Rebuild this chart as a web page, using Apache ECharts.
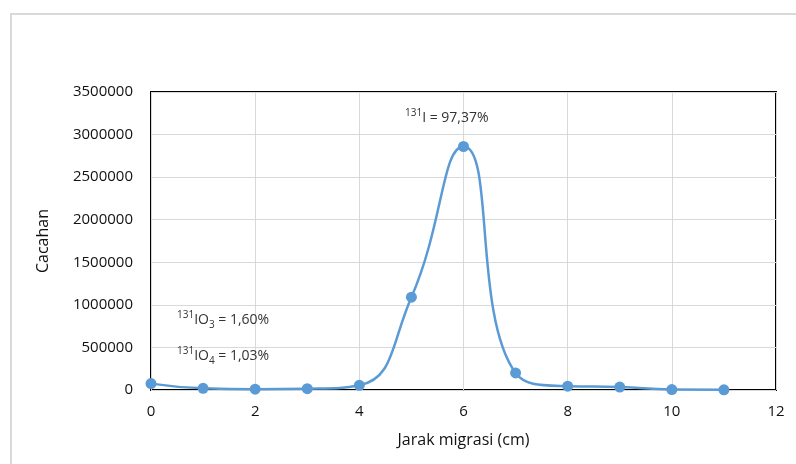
<!DOCTYPE html>
<html>
<head>
<meta charset="utf-8">
<script src="https://cdn.jsdelivr.net/npm/echarts@6/dist/echarts.min.js"></script>
<style>html,body{margin:0;padding:0;background:#fff}#c{width:796px;height:464px}</style>
</head>
<body>
<div id="c"></div>
<script>
const distances = [0, 1, 2, 3, 4, 5, 6, 7, 8, 9, 10, 11];
const counts = [75000, 20000, 10000, 15000, 55000, 1090000, 2860000, 200000, 45000, 35000, 5000, 2000];
const xTicks = [0, 2, 4, 6, 8, 10, 12];
const yTicks = [0, 500000, 1000000, 1500000, 2000000, 2500000, 3000000, 3500000];
const annotations = [
  {text: '{sup|131}I = 97,37%', x: 405, y: 108},
  {text: '{sup|131}IO{sub|3} = 1,60%', x: 177, y: 310},
  {text: '{sup|131}IO{sub|4} = 1,03%', x: 177, y: 346}
];

const FONT = '"Open Sans", "DejaVu Sans", sans-serif';
const chart = echarts.init(document.getElementById('c'), null, {renderer: 'canvas'});
const richStyles = {
  sup: {fontSize: 10, verticalAlign: 'top', fontFamily: FONT, fill: '#333', lineHeight: 20},
  sub: {fontSize: 10, verticalAlign: 'bottom', fontFamily: FONT, fill: '#333', lineHeight: 20}
};
chart.setOption({
  animation: false,
  backgroundColor: '#fff',
  grid: {left: 151, right: 20, top: 92, bottom: 74, show: true, borderColor: '#000', borderWidth: 2, backgroundColor: 'transparent'},
  xAxis: {
    type: 'value', min: xTicks[0], max: xTicks[xTicks.length - 1], interval: 2,
    name: 'Jarak migrasi (cm)', nameLocation: 'middle', nameGap: 42,
    nameTextStyle: {fontFamily: FONT, fontSize: 16, color: '#111'},
    axisLine: {show: false}, axisTick: {show: false},
    axisLabel: {margin: 14, fontFamily: FONT, fontSize: 15, color: '#111'},
    splitLine: {show: true, lineStyle: {color: '#d9d9d9', width: 1}}
  },
  yAxis: {
    type: 'value', min: yTicks[0], max: yTicks[yTicks.length - 1], interval: 500000,
    name: 'Cacahan', nameLocation: 'middle', nameGap: 100, nameRotate: 90,
    nameTextStyle: {fontFamily: FONT, fontSize: 16, color: '#111'},
    axisLine: {show: false}, axisTick: {show: false},
    axisLabel: {margin: 18, fontFamily: FONT, fontSize: 15, color: '#111', formatter: v => String(v)},
    splitLine: {show: true, lineStyle: {color: '#d9d9d9', width: 1}}
  },
  series: [{
    type: 'line',
    data: distances.map((d, i) => [d, counts[i]]),
    smooth: 0.5,
    symbol: 'circle', symbolSize: 11,
    itemStyle: {color: '#5B9BD5'},
    lineStyle: {color: '#5B9BD5', width: 2.5},
    z: 5
  }],
  graphic: [
    {type: 'rect', shape: {x: 11, y: 14, width: 800, height: 470}, style: {fill: 'none', stroke: '#d9d9d9', lineWidth: 2}, silent: true, z: -1},
    ...annotations.map(a => ({
      type: 'text', left: a.x, top: a.y, z: 10,
      style: {text: a.text, fontFamily: FONT, fontSize: 14, fill: '#333', lineHeight: 20, rich: richStyles}
    }))
  ]
});
</script>
</body>
</html>
